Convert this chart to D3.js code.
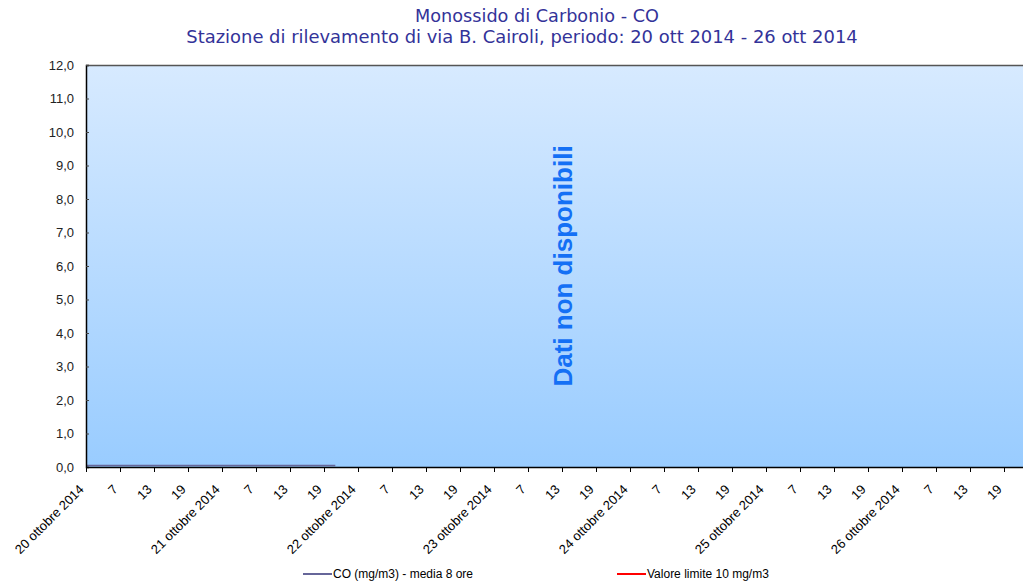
<!DOCTYPE html>
<html>
<head>
<meta charset="utf-8">
<script src="https://cdn.jsdelivr.net/npm/d3@7"></script>
<style>
  html, body { margin: 0; padding: 0; background: #fff; }
  svg { display: block; }
</style>
</head>
<body>
<svg id="chart" width="1023" height="582"></svg>
<script>
// ---- data ----
const titleLines = ["Monossido di Carbonio - CO",
  "Stazione di rilevamento di via B. Cairoli, periodo: 20 ott 2014 - 26 ott 2014"];
const days = ["20 ottobre 2014", "21 ottobre 2014", "22 ottobre 2014", "23 ottobre 2014",
  "24 ottobre 2014", "25 ottobre 2014", "26 ottobre 2014"];
const hourTickLabels = ["", "7", "13", "19"];   // first tick of each day carries the date
const yTicks = [0, 1, 2, 3, 4, 5, 6, 7, 8, 9, 10, 11, 12];
const seriesNames = ["CO (mg/m3) - media 8 ore", "Valore limite 10 mg/m3"];
const seriesColors = ["#666699", "#ff0000"];
// CO 8h mean: hourly values (hour index from 20 ott 00:00); only a flat 0 stretch is visible
const coHours = [0, 1, 2, 3, 4, 5, 6, 7, 8, 9, 10, 11, 12, 13, 14, 15, 16, 17, 18, 19, 20, 21,
  22, 23, 24, 25, 26, 27, 28, 29, 30, 31, 32, 33, 34, 35, 36, 37, 38, 39, 40, 41, 42, 43, 44];
const coValues = [0, 0, 0, 0, 0, 0, 0, 0, 0, 0, 0, 0, 0, 0, 0, 0, 0, 0, 0, 0, 0, 0,
  0, 0, 0, 0, 0, 0, 0, 0, 0, 0, 0, 0, 0, 0, 0, 0, 0, 0, 0, 0, 0, 0, 0];
const limitValues = [];   // limit line not drawn in the reference
const noDataText = "Dati non disponibili";

// ---- layout ----
const W = 1023, H = 582;
const plot = { left: 86, top: 65, bottom: 467, width: 952 };
const svg = d3.select("#chart");

const totalHours = days.length * 24;
const x = d3.scaleLinear().domain([0, totalHours]).range([plot.left, plot.left + plot.width]);
const y = d3.scaleLinear().domain([0, 12]).range([plot.bottom, plot.top]);

// gradient
const defs = svg.append("defs");
const grad = defs.append("linearGradient").attr("id", "bg").attr("x1", 0).attr("y1", 0).attr("x2", 0).attr("y2", 1);
grad.append("stop").attr("offset", "0%").attr("stop-color", "#d7eaff");
grad.append("stop").attr("offset", "100%").attr("stop-color", "#99ccff");

svg.append("rect")
  .attr("x", x(0)).attr("y", y(12))
  .attr("width", x(totalHours) - x(0)).attr("height", y(0) - y(12))
  .attr("fill", "url(#bg)");

// top border
svg.append("line")
  .attr("x1", x(0)).attr("x2", x(totalHours))
  .attr("y1", y(12) + 0.5).attr("y2", y(12) + 0.5)
  .attr("stroke", "#555").attr("stroke-width", 1.5);

// title
const titleCenters = [537, 522];
const titleBase = [22, 43];
const titleWidths = [244, 672];
titleLines.forEach((t, i) => {
  const el = svg.append("text")
    .attr("x", titleCenters[i]).attr("y", titleBase[i])
    .attr("text-anchor", "middle")
    .attr("font-family", "DejaVu Sans, Verdana, sans-serif")
    .attr("font-size", 15)
    .attr("fill", "#333399")
    .text(t);
  const w = el.node().getComputedTextLength();
  el.attr("font-size", 15 * titleWidths[i] / w);
});

// CO series line
const coData = coHours.map((h, i) => ({ h, v: coValues[i] }));
svg.append("path")
  .datum(coData)
  .attr("fill", "none")
  .attr("stroke", seriesColors[0])
  .attr("stroke-width", 1.5)
  .attr("transform", "translate(0,-1.5)")
  .attr("d", d3.line().x(d => x(d.h)).y(d => y(d.v)));

// limit series line (empty)
svg.append("path")
  .datum(limitValues)
  .attr("fill", "none")
  .attr("stroke", seriesColors[1])
  .attr("stroke-width", 2)
  .attr("d", d3.line().x(d => x(d.h)).y(d => y(d.v)));

// y axis
const yAxis = d3.axisLeft(y)
  .tickValues(yTicks)
  .tickSize(-3)
  .tickPadding(12)
  .tickFormat(d => d3.format(".1f")(d).replace(".", ","));
const ya = svg.append("g").attr("transform", `translate(${x(0)},0)`).call(yAxis);
ya.select(".domain").attr("stroke", "#000").attr("stroke-width", 1.5);
ya.selectAll(".tick line").attr("stroke", "#444");
ya.selectAll("text")
  .attr("font-family", "Liberation Sans, Arial, sans-serif")
  .attr("font-size", 13)
  .attr("fill", "#222");

// x axis
const xTickVals = d3.range(0, totalHours, 6);
const xLabel = h => {
  const di = Math.floor(h / 24), k = (h % 24) / 6;
  return k === 0 ? days[di] : hourTickLabels[k];
};
const xAxis = d3.axisBottom(x).tickValues(xTickVals).tickSize(5).tickFormat(xLabel);
const xa = svg.append("g").attr("transform", `translate(0,${y(0)})`).call(xAxis);
xa.select(".domain").attr("stroke", "#000").attr("stroke-width", 1.5)
  .attr("d", `M${x(0)},0.5H${x(totalHours)}`);
xa.selectAll(".tick line").attr("stroke", "#000");
xa.selectAll("text")
  .attr("font-family", "Liberation Sans, Arial, sans-serif")
  .attr("font-size", 13)
  .attr("fill", "#000")
  .attr("text-anchor", "end")
  .attr("y", 0).attr("dy", "0.35em")
  .attr("transform", "translate(-5,20) rotate(-45)");

// no data annotation
svg.append("text")
  .attr("transform", `translate(${572},${266}) rotate(-90)`)
  .attr("text-anchor", "middle")
  .attr("font-family", "Liberation Sans, Arial, sans-serif")
  .attr("font-weight", "bold")
  .attr("font-size", 26)
  .attr("fill", "#1470f5")
  .text(noDataText);

// legend
const legendX = [303, 617];
const lg = svg.append("g").selectAll("g").data(seriesNames).join("g")
  .attr("transform", (d, i) => `translate(${legendX[i]},574)`);
lg.append("line").attr("x1", 0).attr("x2", 29).attr("y1", 0).attr("y2", 0)
  .attr("stroke", (d, i) => seriesColors[i]).attr("stroke-width", 2);
lg.append("text").attr("x", 30).attr("y", 4)
  .attr("font-family", "Liberation Sans, Arial, sans-serif")
  .attr("font-size", 12).attr("fill", "#000")
  .text(d => d);
</script>
</body>
</html>
